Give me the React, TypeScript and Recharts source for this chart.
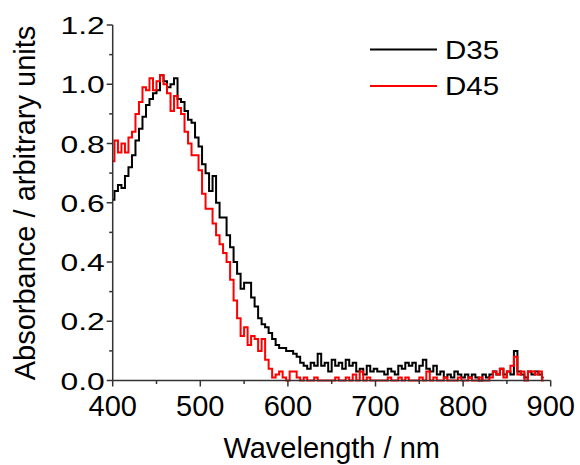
import React from 'react';
import { LineChart, Line, XAxis, YAxis, Legend } from 'recharts';

const wavelengths = [
  400, 404, 408, 412, 416, 420, 424, 428, 432, 436,
  440, 444, 448, 452, 456, 460, 464, 468, 472, 476,
  480, 484, 488, 492, 496, 500, 504, 508, 512, 516,
  520, 524, 528, 532, 536, 540, 544, 548, 552, 556,
  560, 564, 568, 572, 576, 580, 584, 588, 592, 596,
  600, 604, 608, 612, 616, 620, 624, 628, 632, 636,
  640, 644, 648, 652, 656, 660, 664, 668, 672, 676,
  680, 684, 688, 692, 696, 700, 704, 708, 712, 716,
  720, 724, 728, 732, 736, 740, 744, 748, 752, 756,
  760, 764, 768, 772, 776, 780, 784, 788, 792, 796,
  800, 804, 808, 812, 816, 820, 824, 828, 832, 836,
  840, 844, 848, 852, 856, 860, 864, 868, 872, 876,
  880, 884, 888, 892,
];

const d35 = [
  0.61, 0.64, 0.66, 0.65, 0.69, 0.72, 0.76, 0.81, 0.85, 0.89,
  0.93, 0.95, 0.97, 0.98, 1.03, 1.01, 0.99, 1.0, 1.02, 0.95,
  0.94, 0.91, 0.88, 0.87, 0.82, 0.79, 0.73, 0.7, 0.64, 0.69,
  0.6, 0.55, 0.55, 0.49, 0.45, 0.4, 0.36, 0.31, 0.33, 0.33,
  0.28, 0.25, 0.21, 0.19, 0.18, 0.16, 0.14, 0.12, 0.11, 0.11,
  0.1, 0.1, 0.09, 0.08, 0.06, 0.05, 0.04, 0.06, 0.05, 0.09,
  0.05, 0.06, 0.03, 0.07, 0.05, 0.06, 0.04, 0.07, 0.05, 0.06,
  0.03, 0.04, 0.02, 0.05, 0.03, 0.04, 0.03, 0.03, 0.02, 0.04,
  0.03, 0.02, 0.05, 0.04, 0.06, 0.05, 0.06, 0.03, 0.05, 0.07,
  0.04, 0.03, 0.05, 0.02, 0.03, 0.01, 0.02, 0.01, 0.03, 0.02,
  0.01, 0.02, 0.01, 0.02, 0.01, 0.0, 0.02, 0.01, 0.02, 0.03,
  0.02, 0.04, 0.02, 0.03, 0.02, 0.1, 0.03, 0.02, 0.01, 0.03,
  0.02, 0.03, 0.02, 0.01,
];

const d45 = [
  0.74, 0.81, 0.77, 0.8, 0.77, 0.82, 0.84, 0.9, 0.94, 0.99,
  0.98, 1.02, 0.98, 1.01, 1.03, 1.0, 0.97, 0.91, 0.96, 0.92,
  0.9, 0.84, 0.8, 0.76, 0.76, 0.71, 0.63, 0.58, 0.58, 0.53,
  0.49, 0.46, 0.43, 0.4, 0.34, 0.27, 0.21, 0.15, 0.18, 0.12,
  0.15, 0.14, 0.1, 0.14, 0.07, 0.04, 0.01, 0.02, 0.03, 0.01,
  0.0, 0.03, 0.03, 0.01, 0.0, 0.01, 0.0, 0.0, 0.01, 0.0,
  0.0, 0.0, 0.0, 0.0, 0.01, 0.0, 0.0, 0.01, 0.0, 0.02,
  0.0, 0.03, 0.0, 0.01, 0.0, 0.0, 0.0, 0.0, 0.0, 0.01,
  0.0, 0.0, 0.01, 0.0, 0.01, 0.0, 0.0, 0.0, 0.01, 0.0,
  0.03, 0.0, 0.01, 0.0, 0.0, 0.01, 0.0, 0.0, 0.0, 0.01,
  0.0, 0.0, 0.01, 0.0, 0.0, 0.01, 0.0, 0.0, 0.01, 0.03,
  0.02, 0.04, 0.01, 0.03, 0.05, 0.08, 0.02, 0.03, 0.0, 0.03,
  0.03, 0.02, 0.03, 0.0,
];

const xTicks = [400, 450, 500, 550, 600, 650, 700, 750, 800, 850, 900];
const yTicks = [0, 0.1, 0.2, 0.3, 0.4, 0.5, 0.6, 0.7, 0.8, 0.9, 1.0, 1.1, 1.2];

const seriesNames = ['D35', 'D45'];
const seriesColors = ['#000000', '#ff0000'];

const data = wavelengths.map((w, i) => ({ w, D35: d35[i], D45: d45[i] }));

const FONT = '"Liberation Sans", Arial, sans-serif';
const AXIS = '#333333';

const XTick = (props: any) => {
  const { x, y, payload } = props;
  const major = payload.value % 100 === 0;
  return (
    <g>
      <line x1={x} x2={x} y1={y} y2={y + (major ? 6 : 3.5)} stroke={AXIS} strokeWidth={1.5} />
      {major && (
        <text x={x} y={y + 35} textAnchor="middle" fontSize={29} fontFamily={FONT} fill="#000">
          {payload.value}
        </text>
      )}
    </g>
  );
};

const YTick = (props: any) => {
  const { x, y, payload } = props;
  const major = Math.round(payload.value * 10) % 2 === 0;
  return (
    <g>
      <line x1={x} x2={x - (major ? 6 : 3.5)} y1={y} y2={y} stroke={AXIS} strokeWidth={1.5} />
      {major && (
        <text
          transform={`translate(${x - 8},${y + 9}) scale(1.3,1)`}
          textAnchor="end"
          fontSize={24.5}
          fontFamily={FONT}
          fill="#000"
        >
          {Number(payload.value).toFixed(1)}
        </text>
      )}
    </g>
  );
};

const LegendContent = () => (
  <svg width={170} height={85} style={{ display: 'block' }}>
    {seriesNames.map((name, i) => (
      <g key={name}>
        <line x1={5} x2={72} y1={21.5 + i * 36.5} y2={21.5 + i * 36.5} stroke={seriesColors[i]} strokeWidth={2} />
        <text
          transform={`translate(80,${30.5 + i * 36.5}) scale(1.18,1)`}
          fontSize={25}
          fontFamily={FONT}
          fill="#000"
        >
          {name}
        </text>
      </g>
    ))}
  </svg>
);

export default function App() {
  return (
    <div style={{ position: 'absolute', left: 0, top: 0, width: 580, height: 465, background: '#fff' }}>
      <LineChart width={580} height={465} data={data} margin={{ top: 25, right: 29.3, bottom: 0, left: 0 }}>
        <XAxis
          dataKey="w"
          type="number"
          domain={[400, 900]}
          ticks={xTicks}
          interval={0}
          height={84.5}
          tickSize={0}
          tickMargin={0}
          tickLine={false}
          axisLine={{ stroke: AXIS, strokeWidth: 1.5 }}
          tick={<XTick />}
        />
        <YAxis
          type="number"
          domain={[0, 1.2]}
          ticks={yTicks}
          interval={0}
          width={112.7}
          tickSize={0}
          tickMargin={0}
          tickLine={false}
          axisLine={{ stroke: AXIS, strokeWidth: 1.5 }}
          tick={<YTick />}
        />
        <Legend
          layout="horizontal"
          verticalAlign="middle"
          align="center"
          content={<LegendContent />}
          wrapperStyle={{ position: 'absolute', left: 365, top: 28, width: 170, height: 85 }}
        />
        <Line
          type="step"
          dataKey="D35"
          name="D35"
          stroke={seriesColors[0]}
          strokeWidth={2}
          dot={false}
          isAnimationActive={false}
        />
        <Line
          type="step"
          dataKey="D45"
          name="D45"
          stroke={seriesColors[1]}
          strokeWidth={2}
          dot={false}
          isAnimationActive={false}
        />
      </LineChart>
      <svg
        width={580}
        height={465}
        style={{ position: 'absolute', left: 0, top: 0, pointerEvents: 'none' }}
      >
        <text x={331.7} y={458} textAnchor="middle" fontSize={29} fontFamily={FONT} fill="#000">
          Wavelength / nm
        </text>
        <text
          transform="translate(35,203) rotate(-90)"
          textAnchor="middle"
          fontSize={29}
          fontFamily={FONT}
          fill="#000"
        >
          Absorbance / arbitrary units
        </text>
      </svg>
    </div>
  );
}
